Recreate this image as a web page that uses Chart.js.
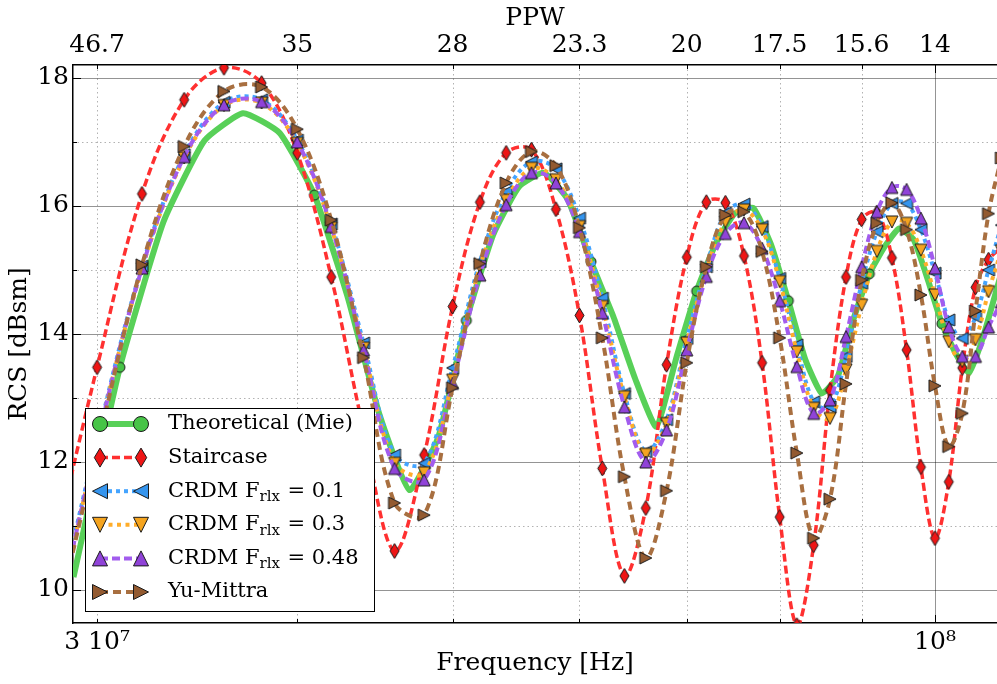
<!DOCTYPE html>
<html>
<head>
<meta charset="utf-8">
<script src="https://cdn.jsdelivr.net/npm/chart.js@4.4.1/dist/chart.umd.min.js"></script>
<style>
  html, body { margin: 0; padding: 0; background: #fff; }
</style>
</head>
<body>
<canvas id="rcs" width="997" height="684"></canvas>
<script>
// frequencies in MHz (FDTD runs, 2 MHz step) and theoretical Mie curve
const freqMHz = [28, 30, 32, 34, 36, 38, 40, 42, 44, 46, 48, 50, 52, 54, 56, 58, 60, 62, 64, 66, 68,
  70, 72, 74, 76, 78, 80, 82, 84, 86, 88, 90, 92, 94, 96, 98, 100, 102, 104, 106, 108, 110];
const mieFreqMHz = [29, 31, 33, 35, 37, 39, 41, 43, 45, 47, 49, 51, 53, 55, 57, 59, 61, 63, 65, 67, 69,
  71, 73, 75, 77, 79, 81, 83, 85, 87, 89, 91, 93, 95, 97, 99, 101, 103, 105, 107, 109, 111];

// RCS in dBsm
const mie = [10.2, 13.48, 15.75, 17.02, 17.45, 17.14, 16.17, 14.58, 12.75, 11.56,
  12.4, 14.21, 15.55, 16.3, 16.52, 16.1, 15.13, 14.27, 13.3, 12.55,
  13.65, 14.67, 15.42, 15.88, 15.97, 15.4, 14.52, 13.6, 13.07, 13.35,
  14.25, 14.94, 15.36, 15.65, 15.47, 14.84, 14.16, 13.7, 13.39, 13.9,
  14.6, 15.3];
const staircase = [10.3, 13.48, 16.19, 17.66, 18.16, 17.92, 16.83, 14.89, 12.5, 10.61,
  12.11, 14.43, 16.06, 16.83, 16.88, 15.95, 14.29, 11.9, 10.22, 11.28,
  13.52, 15.2, 16.06, 16.05, 15.22, 13.55, 11.14, 9.45, 10.7, 13.12,
  14.89, 15.79, 15.9, 15.19, 13.75, 11.92, 10.81, 11.69, 13.47, 14.73,
  15.16, 15.35];
const crdm01 = [9.1, 12.35, 15.06, 16.8, 17.62, 17.66, 17.03, 15.72, 13.86, 12.11,
  11.98, 13.47, 15.13, 16.22, 16.69, 16.58, 15.81, 14.56, 13.07, 12.16,
  12.66, 13.93, 15.05, 15.89, 16.03, 15.68, 14.87, 13.83, 12.94, 12.86,
  13.65, 14.79, 15.6, 16.04, 16.04, 15.63, 14.95, 14.22, 13.93, 14.27,
  15.0, 15.7];
const crdm03 = [9.0, 12.3, 15.02, 16.75, 17.57, 17.61, 16.98, 15.66, 13.78, 11.98,
  11.83, 13.28, 15.05, 16.09, 16.59, 16.41, 15.68, 14.43, 13.02, 12.12,
  12.6, 13.86, 15.0, 15.75, 15.94, 15.63, 14.82, 13.72, 12.84, 12.68,
  13.44, 14.45, 15.29, 15.75, 15.73, 15.31, 14.61, 13.88, 13.57, 13.91,
  14.66, 15.3];
const crdm048 = [9.0, 12.3, 15.03, 16.77, 17.58, 17.63, 17.0, 15.68, 13.75, 11.9,
  11.72, 13.23, 14.92, 16.02, 16.52, 16.36, 15.6, 14.33, 12.86, 12.0,
  12.5, 13.75, 14.9, 15.57, 15.74, 15.34, 14.52, 13.49, 12.76, 12.97,
  13.96, 15.05, 15.91, 16.29, 16.26, 15.81, 15.03, 14.11, 13.65, 13.65,
  14.11, 14.5];
const yuMittra = [9.0, 12.2, 15.08, 16.93, 17.79, 17.86, 17.2, 15.78, 13.63, 11.36,
  11.17, 13.16, 15.1, 16.36, 16.85, 16.63, 15.66, 13.94, 11.77, 10.5,
  11.55, 13.55, 15.05, 15.86, 15.91, 15.29, 13.94, 12.14, 10.81, 11.42,
  13.22, 14.84, 15.73, 16.05, 15.63, 14.61, 13.19, 12.24, 12.76, 14.36,
  15.88, 16.75];

// axes
const xTicks = [3e7, 4e7, 5e7, 6e7, 7e7, 8e7, 9e7, 1e8];
const ppwLabels = ['46.7', '35', '28', '23.3', '20', '17.5', '15.6', '14'];
const yTicks = [10, 11, 12, 13, 14, 15, 16, 17, 18];
const X_MIN = 2.898e7, X_MAX = 1.0932e8;
const Y_MIN = 9.484, Y_MAX = 18.203;

const SERIF = "'DejaVu Serif', 'Liberation Serif', serif";

function paintMarker(g, shape, x, y, s, fill) {
  const r = s / 2;
  g.save();
  g.beginPath();
  if (shape === 'circle') {
    g.arc(x, y, r, 0, Math.PI * 2);
  } else if (shape === 'thinDiamond') {
    g.moveTo(x, y - r); g.lineTo(x + r * 0.6, y); g.lineTo(x, y + r); g.lineTo(x - r * 0.6, y);
  } else {
    const pts = {
      up: [[0, -1], [1, 1], [-1, 1]],
      down: [[0, 1], [1, -1], [-1, -1]],
      left: [[-1, 0], [1, -1], [1, 1]],
      right: [[1, 0], [-1, -1], [-1, 1]]
    }[shape];
    pts.forEach(([px, py], i) => i ? g.lineTo(x + px * r, y + py * r) : g.moveTo(x + px * r, y + py * r));
  }
  g.closePath();
  g.fillStyle = fill;
  g.fill();
  g.lineWidth = 1;
  g.strokeStyle = '#1a1a1a';
  g.stroke();
  g.restore();
}

function markerCanvas(shape, s, fill) {
  const c = document.createElement('canvas');
  c.width = c.height = Math.ceil(s) + 4;
  paintMarker(c.getContext('2d'), shape, c.width / 2, c.height / 2, s, fill);
  return c;
}

function makeSet(label, freqs, vals, o) {
  return {
    label: label,
    order: o.order,
    data: freqs.map((f, i) => ({ x: f * 1e6, y: vals[i] })),
    borderColor: o.line,
    borderWidth: o.width,
    borderDash: o.dash,
    borderCapStyle: 'butt',
    tension: o.tension,
    fill: false,
    clip: 0,
    pointStyle: markerCanvas(o.shape, o.size, o.fill),
    pointRadius: o.radii || 5,
    markerShape: o.shape,
    markerFill: o.fill,
    legendSize: o.legendSize
  };
}

const datasets = [
  makeSet('Theoretical (Mie)', mieFreqMHz, mie, { order: 6, line: '#58d058', width: 6, dash: [], tension: 0.15,
    shape: 'circle', size: 10, legendSize: 15, fill: '#47c447', radii: mieFreqMHz.map(f => f % 10 === 1 ? 5 : 0) }),
  makeSet('Staircase', freqMHz, staircase, { order: 5, line: '#ff3030', width: 3.5, dash: [8, 4], tension: 0.35,
    shape: 'thinDiamond', size: 15, legendSize: 19, fill: '#ee1515' }),
  makeSet('CRDM Frlx = 0.1', freqMHz, crdm01, { order: 4, line: '#44a4ff', width: 4, dash: [4, 4], tension: 0.35,
    shape: 'left', size: 12, legendSize: 15, fill: '#3595ee' }),
  makeSet('CRDM Frlx = 0.3', freqMHz, crdm03, { order: 3, line: '#ffad2a', width: 4, dash: [4, 4.5], tension: 0.35,
    shape: 'down', size: 12, legendSize: 15, fill: '#f5a41e' }),
  makeSet('CRDM Frlx = 0.48', freqMHz, crdm048, { order: 2, line: '#a25cee', width: 4, dash: [8, 4], tension: 0.35,
    shape: 'up', size: 12, legendSize: 15, fill: '#9043d8' }),
  makeSet('Yu-Mittra', freqMHz, yuMittra, { order: 1, line: '#a86f40', width: 4, dash: [8, 5], tension: 0.35,
    shape: 'right', size: 12, legendSize: 15, fill: '#935a30' })
];

const legendParts = [
  [['Theoretical (Mie)', 0]],
  [['Staircase', 0]],
  [['CRDM F', 0], ['rlx', 1], [' = 0.1', 0]],
  [['CRDM F', 0], ['rlx', 1], [' = 0.3', 0]],
  [['CRDM F', 0], ['rlx', 1], [' = 0.48', 0]],
  [['Yu-Mittra', 0]]
];

// matplotlib-like grid, inner tick marks
const gridPlugin = {
  id: 'mplGrid',
  beforeDatasetsDraw(chart) {
    const g = chart.ctx, a = chart.chartArea, sx = chart.scales.x, sy = chart.scales.y;
    g.save();
    g.beginPath();
    g.rect(a.left, a.top, a.right - a.left, a.bottom - a.top);
    g.clip();
    g.lineWidth = 1;
    yTicks.forEach(v => {
      const y = Math.round(sy.getPixelForValue(v)) + 0.5;
      const major = v % 2 === 0;
      g.strokeStyle = major ? 'rgba(0,0,0,0.42)' : 'rgba(0,0,0,0.3)';
      g.setLineDash(major ? [] : [1.5, 3]);
      g.beginPath(); g.moveTo(a.left, y); g.lineTo(a.right, y); g.stroke();
    });
    xTicks.forEach(v => {
      const x = Math.round(sx.getPixelForValue(v)) + 0.5;
      const major = v === 1e8;
      g.strokeStyle = major ? 'rgba(0,0,0,0.42)' : 'rgba(0,0,0,0.3)';
      g.setLineDash(major ? [] : [1.5, 3]);
      g.beginPath(); g.moveTo(x, a.top); g.lineTo(x, a.bottom); g.stroke();
    });
    g.restore();
  },
  afterDatasetsDraw(chart) {
    const g = chart.ctx, a = chart.chartArea, sx = chart.scales.x, sy = chart.scales.y;
    g.save();
    g.strokeStyle = '#000';
    g.lineWidth = 1;
    yTicks.forEach(v => {
      const y = Math.round(sy.getPixelForValue(v)) + 0.5;
      const len = v % 2 === 0 ? 8 : 4;
      g.beginPath(); g.moveTo(a.left, y); g.lineTo(a.left + len, y); g.stroke();
    });
    xTicks.forEach(v => {
      const x = Math.round(sx.getPixelForValue(v)) + 0.5;
      const len = v === 1e8 ? 8 : 4;
      g.beginPath(); g.moveTo(x, a.bottom); g.lineTo(x, a.bottom - len); g.stroke();
      g.beginPath(); g.moveTo(x, a.top); g.lineTo(x, a.top + len); g.stroke();
    });
    g.restore();
  }
};

const legendPlugin = {
  id: 'boxLegend',
  afterDraw(chart) {
    const g = chart.ctx;
    g.save();
    g.fillStyle = '#fff';
    g.fillRect(85.5, 408.5, 289, 203);
    g.strokeStyle = '#000';
    g.lineWidth = 1;
    g.strokeRect(85.5, 408.5, 289, 203);
    chart.data.datasets.forEach((ds, i) => {
      const y = 424 + i * 33.6;
      g.save();
      g.strokeStyle = ds.borderColor;
      g.lineWidth = ds.borderWidth;
      g.setLineDash(ds.borderDash);
      g.beginPath(); g.moveTo(100, y); g.lineTo(141, y); g.stroke();
      g.restore();
      paintMarker(g, ds.markerShape, 100, y, ds.legendSize, ds.markerFill);
      paintMarker(g, ds.markerShape, 141, y, ds.legendSize, ds.markerFill);
      let x = 168;
      g.fillStyle = '#000';
      g.textBaseline = 'middle';
      g.textAlign = 'left';
      legendParts[i].forEach(([txt, sub]) => {
        g.font = (sub ? '15px ' : '21px ') + SERIF;
        g.fillText(txt, x, y + (sub ? 6 : 0));
        x += g.measureText(txt).width + (sub ? 1 : 0);
      });
    });
    g.restore();
  }
};

const tickFont = { family: SERIF, size: 25 };

new Chart(document.getElementById('rcs'), {
  type: 'line',
  data: { datasets: datasets },
  options: {
    responsive: false,
    devicePixelRatio: 1,
    animation: false,
    events: [],
    layout: { padding: 0, autoPadding: false },
    plugins: { legend: { display: false }, tooltip: { enabled: false } },
    scales: {
      x: {
        type: 'logarithmic', position: 'bottom', min: X_MIN, max: X_MAX,
        afterBuildTicks: s => { s.ticks = xTicks.map(v => ({ value: v })); },
        afterFit: s => { s.height = 61; s.paddingLeft = 0; s.paddingRight = 0; },
        grid: { display: false, drawTicks: false },
        border: { display: true, color: '#000', width: 1.5 },
        ticks: {
          autoSkip: false, maxRotation: 0, padding: 4, color: '#000', font: tickFont,
          callback: v => v === 3e7 ? '3 10\u2077' : (v === 1e8 ? '10\u2078' : '')
        },
        title: { display: true, text: 'Frequency [Hz]', color: '#000', font: tickFont, padding: { top: 0, bottom: 6 } }
      },
      x2: {
        type: 'logarithmic', axis: 'x', position: 'top', min: X_MIN, max: X_MAX,
        afterBuildTicks: s => { s.ticks = xTicks.map(v => ({ value: v })); },
        afterFit: s => { s.height = 65; s.paddingLeft = 0; s.paddingRight = 0; },
        grid: { display: false, drawTicks: false },
        border: { display: true, color: '#000', width: 1.5 },
        ticks: {
          autoSkip: false, maxRotation: 0, padding: 5, color: '#000', font: tickFont,
          callback: (v, i) => ppwLabels[i]
        },
        title: { display: true, text: 'PPW', color: '#000', font: tickFont, padding: { top: 3, bottom: 0 } }
      },
      y: {
        type: 'linear', position: 'left', min: Y_MIN, max: Y_MAX,
        afterBuildTicks: s => { s.ticks = [10, 12, 14, 16, 18].map(v => ({ value: v })); },
        afterFit: s => { s.width = 73; },
        grid: { display: false, drawTicks: false },
        border: { display: true, color: '#000', width: 1.5 },
        ticks: { padding: 4, color: '#000', font: tickFont, callback: v => String(v) },
        title: { display: true, text: 'RCS [dBsm]', color: '#000', font: tickFont, padding: { top: 4, bottom: 0 } }
      }
    }
  },
  plugins: [gridPlugin, legendPlugin]
});
</script>
</body>
</html>
